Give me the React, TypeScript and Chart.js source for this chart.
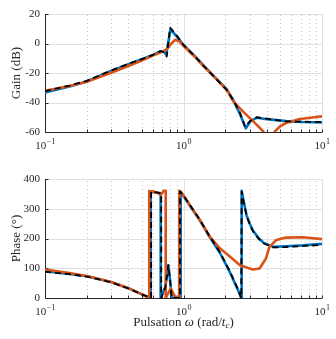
import React, { useEffect, useRef } from 'react';
import { Chart, registerables } from 'chart.js';

Chart.register(...registerables);

// ---------------- data ----------------
// Gain (dB)
const gainFreqModel = [0.1, 0.15, 0.2, 0.3, 0.4, 0.5, 0.6, 0.68, 0.72, 0.757, 0.8, 0.9, 1.0, 1.2, 1.4, 1.7, 2.05, 2.29, 2.56, 2.78, 3.03, 3.37, 4.0, 5.5, 7.3, 10];
const gainModel = [-32.3, -28.5, -25.3, -18.3, -13.8, -10.6, -7.8, -5.2, -5.8, -8.8, 10.8, 5, -1, -8.5, -15.3, -23.6, -31.4, -38.5, -47, -56.5, -52.5, -50, -51, -52.8, -53, -53.2];

const gainFreqMeas = [0.1, 0.15, 0.2, 0.3, 0.4, 0.5, 0.6, 0.68, 0.72, 0.75, 0.805, 0.9, 1.0, 1.2, 1.4, 1.7, 2.05, 2.29, 2.56, 2.82, 3.05, 3.4, 4.0, 5.5, 7.3, 10];
const gainMeas = [-33.2, -29.2, -25.8, -18.6, -14, -10.6, -7.7, -5.3, -5.5, -7.5, 9.5, 4.5, -1, -8.3, -15, -23.2, -31, -38.5, -48, -57.5, -52.5, -50.3, -51.3, -52.6, -53.2, -53.5];

const gainFreqIdent = [0.1, 0.15, 0.2, 0.3, 0.4, 0.5, 0.6, 0.7, 0.75, 0.81, 0.868, 0.93, 1.0, 1.2, 1.4, 1.7, 2.05, 2.29, 2.68, 3.19, 3.77, 4.15, 4.57, 5.0, 5.5, 6.9, 8.5, 10];
const gainIdent = [-32, -28.8, -26, -19.8, -15.3, -11.6, -8.2, -5.6, -4.2, -0.5, 2.5, 1.5, -1.5, -8.8, -15.5, -23.5, -31.5, -39.3, -46, -52.8, -59.6, -75, -59.6, -56, -53.9, -51.2, -50.2, -49.4];

// Phase (deg)
const phaseFreqModel = [0.1, 0.15, 0.2, 0.3, 0.4, 0.5, 0.584, 0.584, 0.69, 0.69, 0.74, 0.777, 0.8, 0.822, 0.943, 0.943, 1.0, 1.11, 1.315, 1.55, 1.83, 2.17, 2.49, 2.61, 2.63, 2.73, 2.86, 3.02, 3.18, 3.47, 3.77, 4.44, 5.5, 7.3, 10];
const phaseModel = [88, 80, 72, 53, 32, 12, 0, 358, 352, 0, 37, 110, 60, 0, 0, 358, 345, 313, 262, 206, 155, 88, 26, 0, 358, 319, 274, 246, 223, 200, 184, 170, 171, 175, 178];

const phaseFreqMeas = [0.1, 0.15, 0.2, 0.3, 0.4, 0.5, 0.58, 0.58, 0.684, 0.684, 0.74, 0.777, 0.8, 0.822, 0.955, 0.955, 1.0, 1.11, 1.315, 1.55, 1.83, 2.17, 2.49, 2.61, 2.63, 2.73, 2.86, 3.02, 3.18, 3.47, 3.77, 4.44, 5.5, 7.3, 10];
const phaseMeas = [90, 81, 73, 54, 33, 12, 0, 358, 352, 0, 37, 110, 60, 0, 0, 358, 343, 311, 260, 204, 152, 85, 24, 0, 360, 321, 276, 248, 226, 203, 186, 172, 174, 177, 182];

const phaseFreqIdent = [0.1, 0.15, 0.2, 0.3, 0.4, 0.5, 0.566, 0.566, 0.64, 0.686, 0.72, 0.744, 0.744, 0.808, 0.868, 0.933, 0.933, 1.0, 1.11, 1.315, 1.55, 1.83, 2.17, 2.56, 3.16, 3.54, 3.94, 4.17, 4.68, 5.5, 7.3, 10];
const phaseIdent = [96, 84, 74, 54, 33, 13, 0, 360, 355, 347, 360, 360, 0, 32, 5, 0, 360, 345, 313, 262, 206, 167, 139, 110, 96, 99, 133, 172, 195, 203, 204, 198];

// axis ticks
const decadeTicks = [0.1, 1, 10];
const decadeExponents = ['\u22121', '0', '1'];
const minorTicks = [0.2, 0.3, 0.4, 0.5, 0.6, 0.7, 0.8, 0.9, 2, 3, 4, 5, 6, 7, 8, 9];

// ---------------- style ----------------
const FONT = "'Liberation Serif', 'Times New Roman', serif";
const AXIS_COLOR = '#262626';
const MAJOR_GRID = '#dfdfdf';
const MINOR_GRID = '#c4c4c4';
const BLUE = '#0072BD';
const ORANGE = '#D95319';

function series(freq: number[], vals: number[], color: string, width: number, dash: number[]) {
  return {
    data: freq.map((f, i) => ({ x: f, y: vals[i] })),
    borderColor: color,
    borderWidth: width,
    borderDash: dash,
    pointRadius: 0,
    pointHoverRadius: 0,
    tension: 0,
    fill: false,
    borderJoinStyle: 'round',
    clip: 0,
  };
}

function makePlugin(showXTitle: boolean) {
  return {
    id: 'bodeDecor',
    beforeDatasetsDraw(chart: any) {
      const { ctx, chartArea, scales } = chart;
      const { left, right, top, bottom } = chartArea;
      const xs = scales.x;
      const ys = scales.y;
      const line = (x1: number, y1: number, x2: number, y2: number) => {
        ctx.beginPath();
        ctx.moveTo(x1, y1);
        ctx.lineTo(x2, y2);
        ctx.stroke();
      };
      ctx.save();
      ctx.lineWidth = 1;
      ctx.strokeStyle = MINOR_GRID;
      ctx.setLineDash([1, 3]);
      for (const v of minorTicks) {
        const px = Math.round(xs.getPixelForValue(v)) + 0.5;
        line(px, bottom, px, top);
      }
      ctx.setLineDash([]);
      ctx.strokeStyle = MAJOR_GRID;
      for (const v of decadeTicks) {
        const px = Math.round(xs.getPixelForValue(v)) + 0.5;
        line(px, bottom, px, top);
      }
      for (const t of ys.ticks) {
        const py = Math.round(ys.getPixelForValue(t.value)) + 0.5;
        line(left, py, right, py);
      }
      // axes (left + bottom)
      ctx.strokeStyle = AXIS_COLOR;
      const lx = Math.round(left) + 0.5;
      const by = Math.round(bottom) + 0.5;
      line(lx, top, lx, by);
      line(lx, by, right, by);
      for (const v of [...decadeTicks, ...minorTicks]) {
        const px = Math.round(xs.getPixelForValue(v)) + 0.5;
        line(px, by, px, by - 3);
      }
      for (const t of ys.ticks) {
        const py = Math.round(ys.getPixelForValue(t.value)) + 0.5;
        line(lx, py, lx + 3, py);
      }
      ctx.restore();
    },
    afterDraw(chart: any) {
      const { ctx, chartArea, scales } = chart;
      const { left, right, bottom } = chartArea;
      const xs = scales.x;
      ctx.save();
      ctx.fillStyle = AXIS_COLOR;
      ctx.textBaseline = 'alphabetic';
      ctx.textAlign = 'left';
      decadeTicks.forEach((v, i) => {
        ctx.font = `11px ${FONT}`;
        const w1 = ctx.measureText('10').width;
        ctx.font = `8px ${FONT}`;
        const w2 = ctx.measureText(decadeExponents[i]).width;
        const x0 = xs.getPixelForValue(v) - (w1 + w2) / 2;
        const baseY = bottom + 16.5;
        ctx.font = `11px ${FONT}`;
        ctx.fillText('10', x0, baseY);
        ctx.font = `8px ${FONT}`;
        ctx.fillText(decadeExponents[i], x0 + w1 + 0.5, baseY - 4.5);
      });
      if (showXTitle) {
        const parts = [
          { t: 'Pulsation ', f: `13px ${FONT}`, dy: 0 },
          { t: '\u03c9', f: `italic 13px ${FONT}`, dy: 0 },
          { t: ' (rad/', f: `13px ${FONT}`, dy: 0 },
          { t: 't', f: `italic 13px ${FONT}`, dy: 0 },
          { t: 'c', f: `italic 9px ${FONT}`, dy: 2.5 },
          { t: ')', f: `13px ${FONT}`, dy: 0 },
        ];
        let total = 0;
        const widths = parts.map((p) => {
          ctx.font = p.f;
          const w = ctx.measureText(p.t).width;
          total += w;
          return w;
        });
        let x = (left + right) / 2 - total / 2;
        const baseY = bottom + 27.5;
        parts.forEach((p, i) => {
          ctx.font = p.f;
          ctx.fillText(p.t, x, baseY + p.dy);
          x += widths[i];
        });
      }
      ctx.restore();
    },
  };
}

function makeConfig(opts: {
  datasets: any[];
  yMin: number;
  yMax: number;
  yStep: number;
  yTitle: string;
  xAxisHeight: number;
  showXTitle: boolean;
}): any {
  return {
    type: 'line',
    data: { datasets: opts.datasets },
    options: {
      animation: false,
      responsive: false,
      maintainAspectRatio: false,
      devicePixelRatio: 1,
      events: [],
      layout: { padding: { top: 14, right: 14, left: 0, bottom: 0 } },
      plugins: { legend: { display: false }, tooltip: { enabled: false } },
      scales: {
        x: {
          type: 'logarithmic',
          min: 0.1,
          max: 10,
          ticks: { display: false },
          grid: { display: false, drawTicks: false },
          border: { display: false },
          afterFit: (s: any) => {
            s.height = opts.xAxisHeight;
          },
        },
        y: {
          type: 'linear',
          min: opts.yMin,
          max: opts.yMax,
          ticks: {
            stepSize: opts.yStep,
            font: { family: FONT, size: 11 },
            color: AXIS_COLOR,
            padding: 5,
          },
          grid: { display: false, drawTicks: false },
          border: { display: false },
          title: {
            display: true,
            text: opts.yTitle,
            font: { family: FONT, size: 13 },
            color: AXIS_COLOR,
            padding: { top: 9, bottom: 0 },
          },
          afterFit: (s: any) => {
            s.width = 45;
          },
        },
      },
    },
    plugins: [makePlugin(opts.showXTitle)],
  };
}

export default function App() {
  const gainRef = useRef<HTMLCanvasElement>(null);
  const phaseRef = useRef<HTMLCanvasElement>(null);

  useEffect(() => {
    const gain = new Chart(
      gainRef.current as HTMLCanvasElement,
      makeConfig({
        datasets: [
          series(gainFreqModel, gainModel, '#000000', 1.8, [6, 4]),
          series(gainFreqIdent, gainIdent, ORANGE, 2.6, []),
          series(gainFreqMeas, gainMeas, BLUE, 2.6, []),
        ],
        yMin: -60,
        yMax: 20,
        yStep: 20,
        yTitle: 'Gain (dB)',
        xAxisHeight: 33,
        showXTitle: false,
      })
    );
    const phase = new Chart(
      phaseRef.current as HTMLCanvasElement,
      makeConfig({
        datasets: [
          series(phaseFreqModel, phaseModel, '#000000', 1.8, [6, 4]),
          series(phaseFreqIdent, phaseIdent, ORANGE, 2.6, []),
          series(phaseFreqMeas, phaseMeas, BLUE, 2.6, []),
        ],
        yMin: 0,
        yMax: 400,
        yStep: 100,
        yTitle: 'Phase (\u00b0)',
        xAxisHeight: 41,
        showXTitle: true,
      })
    );
    return () => {
      gain.destroy();
      phase.destroy();
    };
  }, []);

  return (
    <div style={{ position: 'absolute', left: 0, top: 0, width: 336, height: 339, background: '#ffffff' }}>
      <canvas
        ref={gainRef}
        width={336}
        height={165}
        style={{ position: 'absolute', left: 0, top: 0, width: 336, height: 165, display: 'block' }}
      />
      <canvas
        ref={phaseRef}
        width={336}
        height={174}
        style={{ position: 'absolute', left: 0, top: 165, width: 336, height: 174, display: 'block' }}
      />
    </div>
  );
}
